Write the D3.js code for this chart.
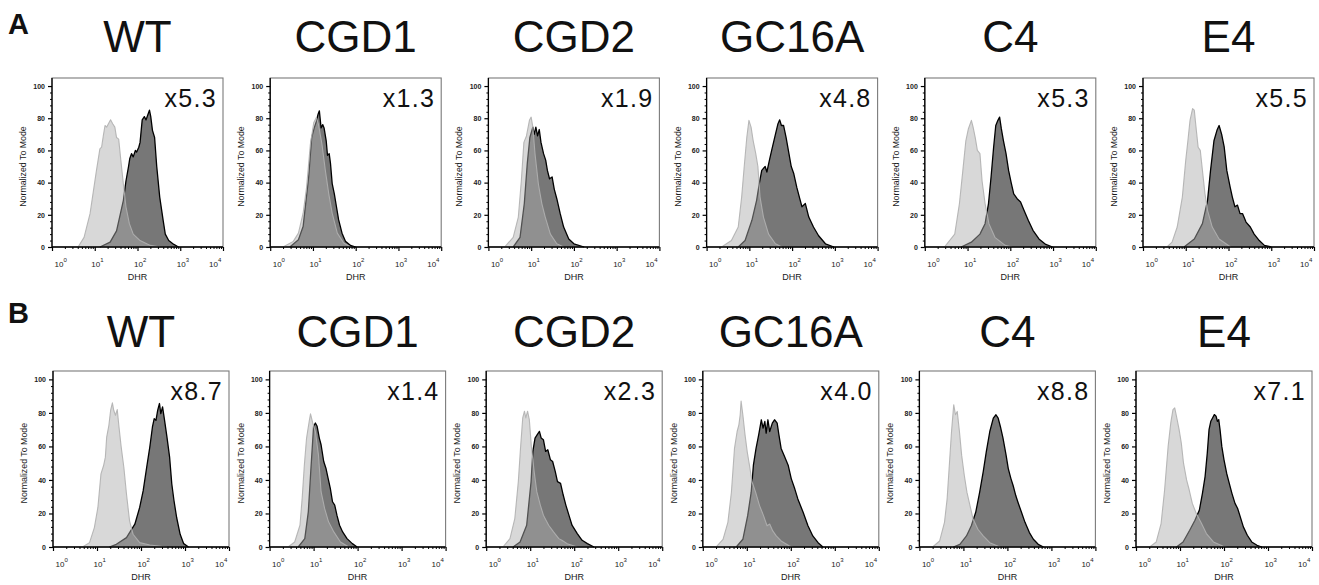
<!DOCTYPE html>
<html><head><meta charset="utf-8">
<script src="https://cdn.jsdelivr.net/npm/d3@7"></script>
<style>body{margin:0;background:#fff} svg{display:block} text{font-family:"Liberation Sans",Arial,Helvetica,sans-serif}</style>
</head><body><svg id="c" width="1319" height="585"></svg>
<script>
// ---------- data ----------
const rowLetters = ["A", "B"];
const sampleNames = ["WT", "CGD1", "CGD2", "GC16A", "C4", "E4"];
const foldA = ["x5.3", "x1.3", "x1.9", "x4.8", "x5.3", "x5.5"];
const foldB = ["x8.7", "x1.4", "x2.3", "x4.0", "x8.8", "x7.1"];
const yTicks = [0, 20, 40, 60, 80, 100];
const xDecades = [1, 10, 100, 1000, 10000];
const xLabel = "DHR";
const yLabel = "Normalized To Mode";

// histograms: [log10 DHR, % of mode]; ctrl = unstimulated (light), dhr = stimulated (dark)
const A_WT_ctrl = [[0.61,0],[0.75,6],[0.89,20.7],[1.04,47.6],[1.12,61],[1.16,62],[1.2,69],[1.24,75.5],[1.28,74.5],[1.32,76.6],[1.37,79],[1.42,76.6],[1.47,74.5],[1.51,68],[1.56,67],[1.61,54],[1.67,39],[1.73,25],[1.81,14.5],[1.9,8],[2.06,4],[2.3,1],[2.53,0]];
const A_WT_dhr = [[1.12,0],[1.36,3],[1.51,10],[1.67,29],[1.73,41],[1.79,50],[1.82,55],[1.86,58],[1.9,56],[1.95,60],[1.98,59],[2.03,62],[2.06,65],[2.11,79],[2.16,81],[2.2,79],[2.24,82],[2.28,85],[2.31,81],[2.35,72.5],[2.4,68],[2.45,50],[2.52,31],[2.6,16.6],[2.65,8],[2.73,4],[2.85,1.6],[2.96,0]];
const A_CGD1_ctrl = [[0.3,0],[0.54,3.5],[0.66,8.6],[0.77,21],[0.85,37],[0.94,64],[1.02,77.4],[1.08,80.5],[1.13,76],[1.21,64],[1.29,47.6],[1.37,33],[1.45,21],[1.57,8.6],[1.72,2.5],[1.88,0]];
const A_CGD1_dhr = [[0.46,0],[0.66,4.5],[0.77,12.7],[0.9,43.5],[0.97,68],[1.03,74],[1.08,78],[1.12,82.5],[1.15,84.6],[1.19,74],[1.23,76],[1.26,74],[1.31,66],[1.34,57],[1.38,58],[1.41,52],[1.45,39.4],[1.5,33],[1.55,25],[1.6,17],[1.68,8.6],[1.76,3.5],[1.88,1],[2.0,0]];
const A_CGD2_ctrl = [[0.38,0],[0.58,6],[0.7,18.6],[0.77,41],[0.83,65],[0.89,69],[0.96,78.7],[1.0,80.7],[1.04,74.5],[1.09,58],[1.17,39],[1.25,27],[1.33,18.6],[1.45,8],[1.6,2],[1.76,0]];
const A_CGD2_dhr = [[0.58,0],[0.74,6],[0.84,27],[0.91,52],[0.97,68],[1.04,74.5],[1.07,70],[1.11,74.5],[1.15,69],[1.19,73],[1.23,65],[1.29,58],[1.34,54],[1.38,47.6],[1.43,42.4],[1.49,43.5],[1.54,36],[1.6,30],[1.68,20.7],[1.76,12.4],[1.88,5],[2.0,2],[2.24,0]];
const A_GC16A_ctrl = [[0.35,0],[0.58,4],[0.74,12.4],[0.82,31],[0.88,50],[0.94,68],[0.99,78.7],[1.04,74.5],[1.09,66],[1.15,58],[1.2,50],[1.25,31],[1.33,18.6],[1.45,8],[1.61,2],[1.76,0]];
const A_GC16A_dhr = [[0.74,0],[0.9,4],[1.06,16.6],[1.17,29],[1.23,39],[1.29,47.6],[1.37,50],[1.41,46.6],[1.47,54],[1.53,61],[1.61,70],[1.67,76.6],[1.71,79],[1.75,75.5],[1.8,75.5],[1.86,68],[1.92,59],[1.98,50],[2.04,45.5],[2.11,37],[2.17,31],[2.23,25],[2.31,27],[2.39,18.6],[2.5,12.4],[2.62,7],[2.78,2],[2.98,0]];
const A_C4_ctrl = [[0.46,0],[0.7,8],[0.81,27],[0.89,47.6],[0.96,66],[1.02,73.5],[1.09,78.7],[1.13,74.5],[1.18,68],[1.23,60],[1.29,58],[1.34,41],[1.41,27],[1.5,14.5],[1.64,6],[1.88,1],[2.04,0]];
const A_C4_dhr = [[0.85,0],[1.09,3],[1.29,8],[1.41,14.5],[1.49,27],[1.55,43.5],[1.61,62],[1.66,75.5],[1.71,78.7],[1.75,80.7],[1.79,73.5],[1.84,66],[1.9,58],[1.96,47.6],[2.02,40],[2.08,33],[2.16,30],[2.24,28],[2.32,22.8],[2.42,16.6],[2.53,10.4],[2.67,5],[2.83,1.6],[2.99,0]];
const A_E4_ctrl = [[0.56,0],[0.68,3],[0.8,12.4],[0.92,31],[1.0,54],[1.05,66],[1.1,78.7],[1.16,86],[1.2,85],[1.24,74.5],[1.29,62],[1.34,60],[1.39,47.6],[1.45,33],[1.51,22.8],[1.62,12.4],[1.78,5],[2.05,0]];
const A_E4_dhr = [[0.96,0],[1.2,5],[1.39,14.5],[1.51,29],[1.58,47.6],[1.66,66],[1.73,72.5],[1.78,75.5],[1.84,70],[1.9,62],[1.96,47.6],[2.04,37],[2.09,31],[2.15,25],[2.21,26],[2.27,20.7],[2.33,20.7],[2.41,15.5],[2.51,12.4],[2.6,8],[2.72,4],[2.84,1],[3.0,0]];

const B_WT_ctrl = [[0.67,0],[0.83,2.6],[0.94,11.6],[1.02,23.6],[1.09,43.6],[1.15,48.6],[1.19,53.6],[1.22,65.6],[1.27,72.6],[1.31,81.6],[1.35,86],[1.38,81.6],[1.42,78.6],[1.46,82],[1.5,71.6],[1.55,59.6],[1.61,47.6],[1.67,31.6],[1.74,15.6],[1.82,7.6],[1.97,2.6],[2.2,1.2],[2.59,0]];
const B_WT_dhr = [[1.28,0],[1.44,1.6],[1.67,5.6],[1.86,13.6],[1.97,23.6],[2.05,33.6],[2.13,47.6],[2.2,59.6],[2.26,71.6],[2.3,76.6],[2.34,75.6],[2.38,81.6],[2.42,85.6],[2.45,79.6],[2.49,83.6],[2.53,76.6],[2.59,65.6],[2.65,53.6],[2.7,37.6],[2.75,27.6],[2.81,17.6],[2.89,7.6],[2.97,2],[3.08,0]];
const B_CGD1_ctrl = [[0.42,0],[0.57,3],[0.69,13],[0.74,29],[0.79,49],[0.84,65],[0.9,75],[0.93,79.4],[0.98,74],[1.04,69],[1.11,55],[1.17,33],[1.25,23],[1.34,15],[1.46,9],[1.61,3],[1.8,0]];
const B_CGD1_dhr = [[0.65,0],[0.8,5],[0.88,21],[0.94,47],[1.0,72],[1.04,74],[1.08,72],[1.13,65],[1.17,61],[1.23,51],[1.28,47],[1.33,41],[1.38,35],[1.43,27],[1.48,25],[1.53,19],[1.59,13],[1.66,9],[1.76,5],[1.88,2],[1.99,0]];
const B_CGD2_ctrl = [[0.38,0],[0.54,5],[0.65,17],[0.73,39],[0.78,59],[0.83,77],[0.87,81],[0.9,77],[0.94,81],[0.98,76],[1.03,59],[1.09,45],[1.15,33],[1.23,25],[1.3,19],[1.42,13],[1.53,9],[1.65,5],[1.72,4],[1.84,2],[2.07,0]];
const B_CGD2_dhr = [[0.61,0],[0.77,3],[0.92,13],[1.02,39],[1.06,57],[1.11,65],[1.16,67],[1.21,69],[1.25,65],[1.3,64],[1.35,57],[1.4,58],[1.46,52],[1.51,51],[1.57,45],[1.62,39],[1.69,38],[1.75,31],[1.81,25],[1.88,19],[1.95,13],[2.07,8],[2.18,4],[2.3,2],[2.45,0]];
const B_GC16A_ctrl = [[0.3,0],[0.46,4.6],[0.57,14.7],[0.65,32.7],[0.72,58.8],[0.78,68.9],[0.82,72.9],[0.85,78.9],[0.87,87],[0.91,78.9],[0.96,66.9],[1.01,56.8],[1.06,48.8],[1.12,38.8],[1.2,32.7],[1.29,24.7],[1.38,18.7],[1.46,12.7],[1.52,13.7],[1.59,9.6],[1.67,6.6],[1.78,3.6],[1.97,0.6],[2.05,0]];
const B_GC16A_dhr = [[0.76,0],[0.91,4.6],[1.02,18.7],[1.1,32.7],[1.15,48.8],[1.21,58.8],[1.27,66.9],[1.33,75.9],[1.37,70.9],[1.41,74.9],[1.44,67.9],[1.48,75.9],[1.52,68.9],[1.58,73.9],[1.63,75.9],[1.69,73.9],[1.73,66.9],[1.78,58.8],[1.86,53.8],[1.94,48.8],[2.01,40.8],[2.09,34.7],[2.16,28.7],[2.28,20.7],[2.39,12.7],[2.5,6.6],[2.62,2.6],[2.73,0]];
const B_C4_ctrl = [[0.3,0],[0.46,3.6],[0.57,14.7],[0.63,28.7],[0.69,52.8],[0.73,68.9],[0.78,84.9],[0.82,78.9],[0.86,80.9],[0.91,68.9],[0.96,54.8],[1.02,42.8],[1.08,32.7],[1.15,24.7],[1.22,16.7],[1.33,10.6],[1.45,6.6],[1.6,2.6],[1.83,0]];
const B_C4_dhr = [[0.77,0],[0.92,1.6],[1.07,6.6],[1.18,12.7],[1.28,20.7],[1.37,32.7],[1.45,44.8],[1.52,56.8],[1.6,68.9],[1.68,76.9],[1.74,78.9],[1.79,76.9],[1.84,71.9],[1.9,64.9],[1.97,54.8],[2.02,46.8],[2.08,40.8],[2.13,36.7],[2.19,30.7],[2.24,26.7],[2.32,20.7],[2.4,14.7],[2.5,8.6],[2.59,4.6],[2.7,1.6],[2.82,0]];
const B_E4_ctrl = [[0.31,0],[0.46,3],[0.57,14],[0.65,34],[0.73,60],[0.79,74],[0.84,82],[0.88,83],[0.92,78],[0.98,70],[1.03,62],[1.08,50],[1.15,40],[1.21,34],[1.28,26],[1.37,20],[1.49,14],[1.6,8],[1.76,3],[1.98,0.4],[2.06,0]];
const B_E4_dhr = [[0.92,0],[1.07,3],[1.22,10],[1.34,16],[1.44,22],[1.51,32],[1.57,42],[1.62,56],[1.66,70],[1.7,75],[1.74,77],[1.78,79],[1.82,78],[1.85,75],[1.88,76],[1.91,70],[1.95,60],[2.0,52],[2.06,44],[2.12,38],[2.18,32],[2.25,26],[2.31,23],[2.37,18],[2.44,12],[2.53,7],[2.63,3],[2.75,1],[2.86,0]];

const histA = [[A_WT_ctrl, A_WT_dhr], [A_CGD1_ctrl, A_CGD1_dhr], [A_CGD2_ctrl, A_CGD2_dhr], [A_GC16A_ctrl, A_GC16A_dhr], [A_C4_ctrl, A_C4_dhr], [A_E4_ctrl, A_E4_dhr]];
const histB = [[B_WT_ctrl, B_WT_dhr], [B_CGD1_ctrl, B_CGD1_dhr], [B_CGD2_ctrl, B_CGD2_dhr], [B_GC16A_ctrl, B_GC16A_dhr], [B_C4_ctrl, B_C4_dhr], [B_E4_ctrl, B_E4_dhr]];

// ---------- layout ----------
const rows = [
  {letter: rowLetters[0], fold: foldA, hist: histA, top: 78, base: 247, left0: 52, step: 218.2, width: 171, titleY: 52, letterY: 34},
  {letter: rowLetters[1], fold: foldB, hist: histB, top: 371, base: 547, left0: 53, step: 216.6, width: 176, titleY: 347, letterY: 323}
];

const svg = d3.select("#c");

rows.forEach(row => {
  svg.append("text").attr("x", 8).attr("y", row.letterY)
    .attr("font-size", 29).attr("font-weight", "bold").attr("fill", "#111").text(row.letter);

  sampleNames.forEach((name, i) => {
    const left = row.left0 + i * row.step;
    const right = left + row.width;
    const x = d3.scaleLog().domain([1, 1e4]).range([left, right]);
    const y = d3.scaleLinear().domain([0, 105]).range([row.base, row.top]);
    const g = svg.append("g");

    g.append("text").attr("x", (left + right) / 2).attr("y", row.titleY)
      .attr("text-anchor", "middle").attr("font-size", 44).attr("fill", "#111").text(name);

    g.append("rect").attr("x", left).attr("y", row.top).attr("width", row.width).attr("height", row.base - row.top)
      .attr("fill", "#fff").attr("stroke", "#7a7a7a").attr("stroke-width", 1.1);

    const area = d3.area().x(d => x(Math.pow(10, d[0]))).y0(y(0)).y1(d => y(d[1])).curve(d3.curveLinear);
    const line = d3.line().x(d => x(Math.pow(10, d[0]))).y(d => y(d[1])).curve(d3.curveLinear);
    const [ctrl, dhr] = row.hist[i];
    g.append("path").attr("d", area(dhr)).attr("fill", "#777");
    g.append("path").attr("d", line(dhr)).attr("fill", "none").attr("stroke", "#000").attr("stroke-width", 1.3).attr("stroke-linejoin", "round");
    g.append("path").attr("d", area(ctrl)).attr("fill", "rgb(173,173,173)").attr("fill-opacity", 0.47);
    g.append("path").attr("d", line(ctrl)).attr("fill", "none").attr("stroke", "#b0b0b0").attr("stroke-opacity", 0.9).attr("stroke-width", 1.1).attr("stroke-linejoin", "round");

    g.append("text").attr("x", right - 6).attr("y", row.top + 28.5).attr("text-anchor", "end")
      .attr("font-size", 25).attr("letter-spacing", 1.3).attr("fill", "#111").text(row.fold[i]);

    // y axis
    const ya = g.append("g").attr("transform", `translate(${left},0)`)
      .call(d3.axisLeft(y).tickValues(yTicks).tickSize(4).tickSizeOuter(0).tickPadding(3));
    ya.select(".domain").attr("stroke", "#000").attr("stroke-width", 1.3).attr("d", `M0,${row.top}V${row.base}`);
    ya.selectAll(".tick line").attr("stroke", "#000").attr("stroke-width", 1.2);
    ya.selectAll(".tick text").attr("font-size", 7).attr("font-weight", "bold").attr("fill", "#222")
      .attr("font-family", "'Liberation Sans',Arial,sans-serif");
    const yMinorVals = d3.range(0, 101, 4).filter(v => v % 20 !== 0);
    const ym = g.append("g").attr("transform", `translate(${left},0)`)
      .call(d3.axisLeft(y).tickValues(yMinorVals).tickSize(2).tickFormat(""));
    ym.select(".domain").remove();
    ym.selectAll(".tick line").attr("stroke", "#000");

    g.append("text").attr("transform", `translate(${left - 26},${y(50)}) rotate(-90)`)
      .attr("text-anchor", "middle").attr("font-size", 8.8).attr("fill", "#1a1a1a").text(yLabel);

    // x axis
    const xa = g.append("g").attr("transform", `translate(0,${row.base})`)
      .call(d3.axisBottom(x).tickValues(xDecades).tickSize(4).tickSizeOuter(0).tickFormat(""));
    xa.select(".domain").attr("stroke", "#000").attr("stroke-width", 1.3).attr("d", `M${left},0H${right}`);
    xa.selectAll(".tick line").attr("stroke", "#000").attr("stroke-width", 1.2);
    const xMinorVals = [];
    xDecades.slice(0, -1).forEach(dv => { for (let k = 2; k <= 9; k++) xMinorVals.push(dv * k); });
    const xm = g.append("g").attr("transform", `translate(0,${row.base})`)
      .call(d3.axisBottom(x).tickValues(xMinorVals).tickSize(2).tickFormat(""));
    xm.select(".domain").remove();
    xm.selectAll(".tick line").attr("stroke", "#000");

    xDecades.forEach((dv, k) => {
      const px = x(dv);
      const shift = k === 0 ? 2.5 : (k === xDecades.length - 1 ? -14 : -3.5);
      const t = g.append("text").attr("x", px + shift).attr("y", row.base + 20)
        .attr("font-size", 8).attr("fill", "#1a1a1a");
      t.append("tspan").text("10");
      t.append("tspan").attr("dy", -5).attr("font-size", 6).text(String(Math.round(Math.log10(dv))));
    });

    g.append("text").attr("x", (left + right) / 2).attr("y", row.base + 33)
      .attr("text-anchor", "middle").attr("font-size", 9).attr("fill", "#1a1a1a").text(xLabel);
  });
});
</script>
</body></html>
